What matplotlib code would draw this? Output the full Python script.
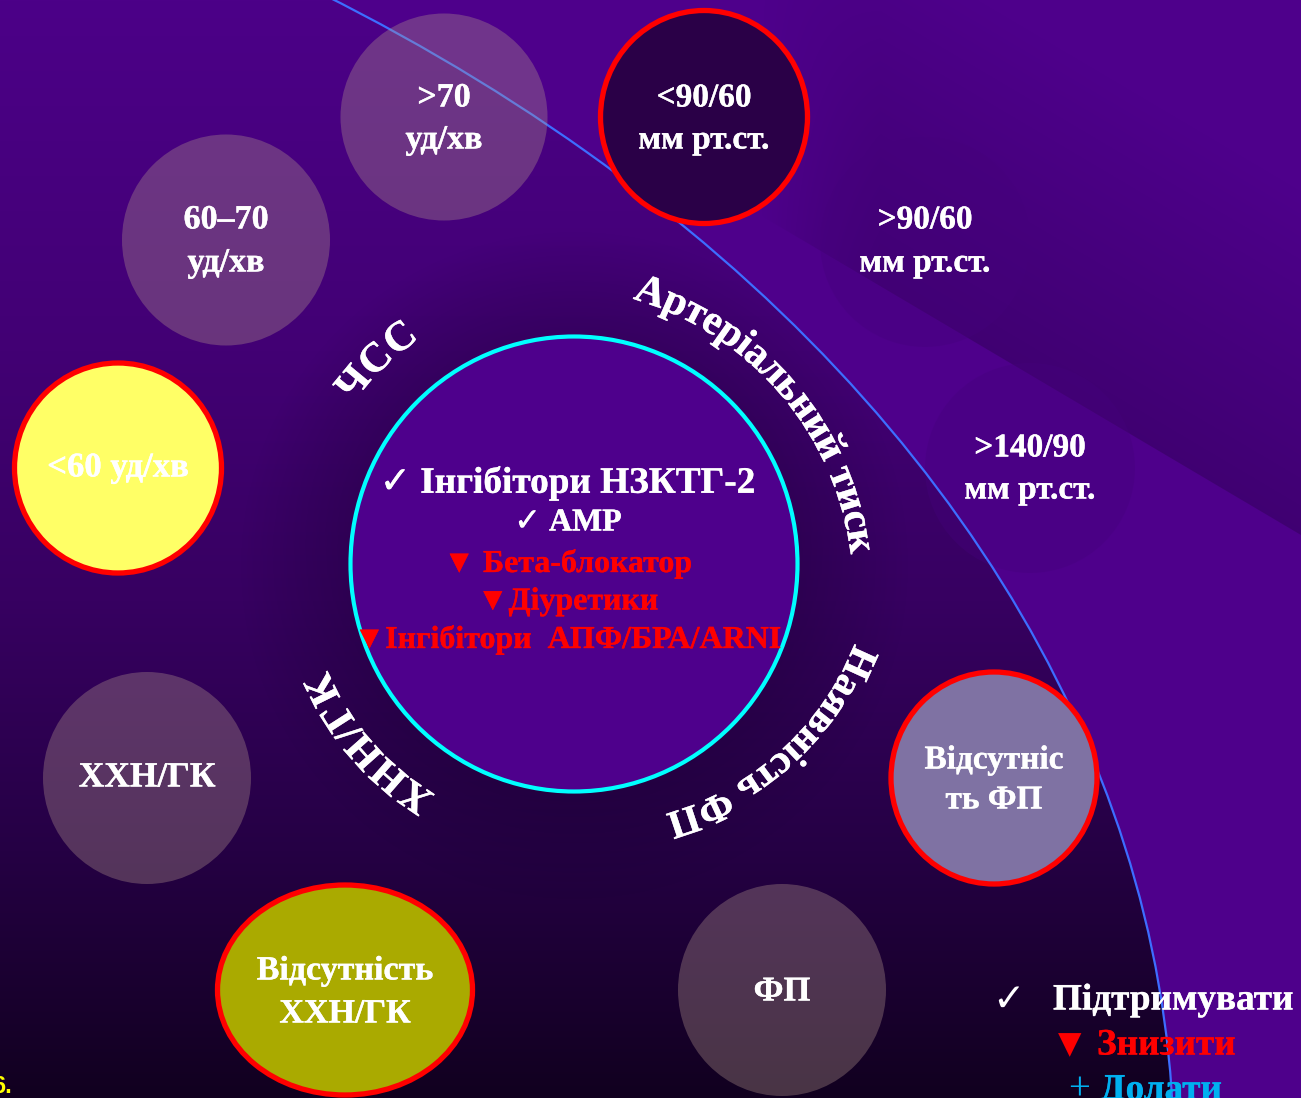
import os
import numpy as np
import matplotlib
matplotlib.use("Agg")
import matplotlib.pyplot as plt
from matplotlib.patches import Ellipse, Polygon
from matplotlib.textpath import TextToPath
from matplotlib.font_manager import FontProperties, findfont
import matplotlib.patheffects as pe

# ---------------- content ----------------
bubble_labels = [">70\nуд/хв", "<90/60\nмм рт.ст.", "60–70\nуд/хв", ">90/60\nмм рт.ст.",
                 "<60 уд/хв", ">140/90\nмм рт.ст.", "ХХН/ГК", "Відсутніс\nть ФП",
                 "Відсутність\nХХН/ГК", "ФП"]
center_lines = ["✓ Інгібітори НЗКТГ-2", "✓ АМР", "▼ Бета-блокатор", "▼Діуретики",
                "▼Інгібітори  АПФ/БРА/ARNI"]
center_colors = ["white", "white", "#ff0000", "#ff0000", "#ff0000"]
arc_labels = ["Артеріальний тиск", "ЧСС", "ХНН/ГК", "Наявність ФП"]
legend_symbols = ["✓", "▼", "+"]
legend_words = ["Підтримувати", "Знизити", "Долати"]
legend_colors = ["white", "#ff0000", "#00b0f0"]

# ---------------- layout ----------------
W, H = 1301, 1098
LAV = (178/255, 151/255, 141/255)
# (cx, cy, width, height, face, alpha, edge)
bubble_geom = [
    (444, 117, 207, 207, LAV, 0.35, None),
    (704, 117, 207, 213, "#2a0047", 1.0, "#ff0000"),
    (226, 240, 208, 211, LAV, 0.35, None),
    (925, 242, 210, 210, "#45007c", 0.35, None),
    (118, 468, 207, 210, "#ffff66", 1.0, "#ff0000"),
    (1030, 468, 210, 210, "#45007c", 0.35, None),
    (147, 778, 208, 212, LAV, 0.35, None),
    (994, 778, 206, 212, "#7f72a3", 1.0, "#ff0000"),
    (345, 990, 255, 210, "#aaaa00", 1.0, "#ff0000"),
    (782, 990, 208, 212, LAV, 0.35, None),
]
bubble_fs = [24.5, 24, 24.5, 24, 25, 24, 25.5, 24, 24.5, 25]
bubble_y0 = [98, 98, 220, 220, 468, 448, 778, 760, 971, 992]
bubble_linesp = [42, 42, 43, 43, 42, 42, 42, 40, 43, 42]

_bp = findfont(FontProperties(family="Liberation Serif", weight="bold"))
HAS_BOLD = "bold" in os.path.basename(_bp).lower()
SERIF = ["Liberation Serif", "DejaVu Sans"]

def fx(fs, color, extra=0.25):
    if HAS_BOLD:
        return dict(fontsize=fs,
                    path_effects=[pe.withStroke(linewidth=extra, foreground=color)])
    return dict(fontsize=fs * 1.04,
                path_effects=[pe.withStroke(linewidth=fs * 0.07, foreground=color)])

fig = plt.figure(figsize=(W / 100, H / 100), dpi=100)
ax = fig.add_axes([0, 0, 1, 1])
ax.set_xlim(0, W)
ax.set_ylim(H, 0)
ax.axis("off")
fig.patch.set_facecolor("#4e008b")
ax.set_facecolor("#4e008b")

yy, xx = np.mgrid[0:H, 0:W]

# darker diagonal wedge top-right
p1 = np.array([760.0, 215.0]); p2 = np.array([1301.0, 535.0])
d = p2 - p1; n = np.array([d[1], -d[0]]) / np.hypot(*d)
dist = (xx - p1[0]) * n[0] + (yy - p1[1]) * n[1]
a = np.clip(0.30 * (1 - dist / 300.0), 0, 0.30)
a *= np.clip((xx - 760) / 120.0, 0, 1)
wedge_img = np.zeros((H, W, 4)); wedge_img[..., 0] = 30/255; wedge_img[..., 2] = 55/255
wedge_img[..., 3] = a
wedge_poly = Polygon([(760, 0), (W, 0), (W, p2[1]), (760, 215)], closed=True, transform=ax.transData)
im = ax.imshow(wedge_img, extent=[0, W, H, 0], zorder=1, interpolation="bilinear")
im.set_clip_path(wedge_poly)

# big ellipse with vertical gradient
stops_y = [0, 350, 600, 850, 1098]
stops_c = np.array([[76, 0, 136], [66, 0, 116], [55, 0, 97], [37, 0, 68], [17, 0, 31]]) / 255
grad = np.zeros((H, W, 3))
for k in range(3):
    col = np.interp(np.arange(H), stops_y, stops_c[:, k])
    grad[..., k] = col[:, None]
ELL = ((-833, 1160), 4014, 2852)
im2 = ax.imshow(grad, extent=[0, W, H, 0], zorder=2, interpolation="bilinear")
im2.set_clip_path(Ellipse(*ELL, transform=ax.transData))

# soft halo around the central circle
ccx, ccy = 574, 565
rr = np.hypot(xx - ccx, yy - ccy)
halo = np.zeros((H, W, 4)); halo[..., 0] = 20/255; halo[..., 2] = 40/255
halo[..., 3] = np.clip(0.28 * (1 - (rr - 225) / 110.0), 0, 0.28) * (rr > 200)
im3 = ax.imshow(halo, extent=[0, W, H, 0], zorder=3, interpolation="bilinear")
im3.set_clip_path(Ellipse(*ELL, transform=ax.transData))

# faint circles first (behind blue line)
for i in (3, 5):
    cx, cy, w, h, fc, al, ec = bubble_geom[i]
    ax.add_patch(Ellipse((cx, cy), w, h, facecolor=fc, alpha=al, edgecolor="none", zorder=4))

# blue outline of big ellipse
ax.add_patch(Ellipse(*ELL, fill=False, edgecolor="#3d6dff", lw=1.6, zorder=5))

# bubbles
for i, (cx, cy, w, h, fc, al, ec) in enumerate(bubble_geom):
    if i in (3, 5):
        continue
    if ec is None:
        ax.add_patch(Ellipse((cx, cy), w, h, facecolor=fc, alpha=al, edgecolor="none", zorder=6))
    else:
        ax.add_patch(Ellipse((cx, cy), w, h, facecolor=fc, edgecolor=ec, lw=3.8, zorder=6))

# central circle
ax.add_patch(Ellipse((ccx, 564), 447, 455, facecolor="#4e008c", edgecolor="#00ffff", lw=3.0, zorder=7))

# bubble texts
for i, lab in enumerate(bubble_labels):
    cx = bubble_geom[i][0]
    for j, ln in enumerate(lab.split("\n")):
        ax.text(cx, bubble_y0[i] + j * bubble_linesp[i], ln, family=SERIF, weight="bold",
                color="white", ha="center", va="center", zorder=9, **fx(bubble_fs[i], "white"))

# central texts
center_y = [483, 523, 564, 602, 640]
center_fs = [26.8, 23, 23, 23, 23]
for t, c, y, fs in zip(center_lines, center_colors, center_y, center_fs):
    ax.text(568, y, t, family=SERIF, weight="bold", color=c,
            ha="center", va="center", zorder=9, **fx(fs, c))

# curved labels
ttp = TextToPath()
def char_widths(s, fp):
    base = ttp.get_text_width_height_descent("xx", fp, ismath=False)[0]
    return [(ttp.get_text_width_height_descent("x" + ch + "x", fp, ismath=False)[0] - base) * 100 / 72
            for ch in s]

def curved(text, cx, cy, r, mid_deg, fs, spacing=1.0):
    kw = fx(fs, "white")
    fp = FontProperties(family="Liberation Serif", weight="bold", size=kw.pop("fontsize"))
    ws = [w * spacing for w in char_widths(text, fp)]
    tot = sum(ws)
    th0 = np.radians(mid_deg) + (tot / 2) / r
    s = 0
    for ch, w in zip(text, ws):
        th = th0 - (s + w / 2) / r
        s += w
        x = cx + r * np.cos(th); y = cy - r * np.sin(th)
        ax.text(x, y, ch, fontproperties=fp, color="white", rotation=np.degrees(th) - 90,
                rotation_mode="anchor", ha="center", va="baseline", zorder=9, **kw)

curved(arc_labels[0], 548, 592, 305, 40.5, 30, 0.98)
curved(arc_labels[1], ccx, ccy, 274, 134, 30, 1.03)
curved(arc_labels[2], ccx, ccy, 268, 221, 30, 1.03)
curved(arc_labels[3], 590, 540, 284, -48, 29, 1.0)

# legend
leg_y = [1000, 1045, 1090]
sym_x = [1008, 1070, 1079]
word_x = [1053, 1097, 1100]
sym_fs = [28, 22, 28]
sym_fam = [["DejaVu Sans"], ["DejaVu Sans"], SERIF]
for k in range(3):
    c = legend_colors[k]
    ax.text(sym_x[k], leg_y[k], legend_symbols[k], family=sym_fam[k], fontsize=sym_fs[k],
            color=c, ha="center", va="center", zorder=9)
    ax.text(word_x[k], leg_y[k], legend_words[k], family=SERIF, weight="bold", color=c,
            ha="left", va="center", zorder=9, **fx(26.8, c))

# slide number fragment
ax.text(-8, 1093, "6.", family=["Liberation Sans"], weight="bold", fontsize=17,
        color="#ffff00", ha="left", va="baseline", zorder=9)

fig.savefig("out.png", dpi=100, facecolor=fig.get_facecolor())
